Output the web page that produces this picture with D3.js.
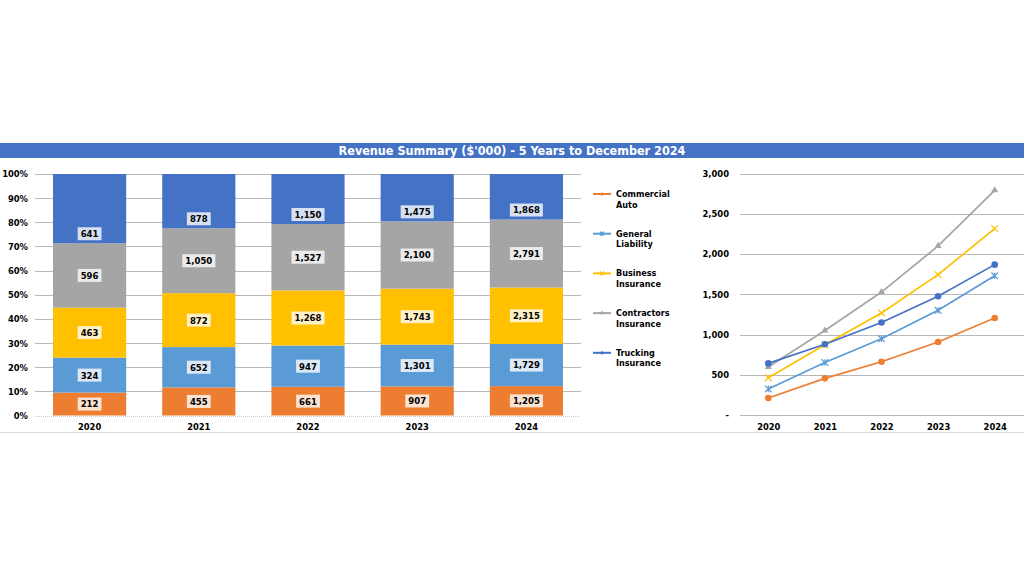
<!DOCTYPE html>
<html><head><meta charset="utf-8">
<script src="https://cdn.jsdelivr.net/npm/d3@7"></script>
<style>
html,body{margin:0;padding:0;background:#fff;}
svg text{font-family:"DejaVu Sans Condensed","DejaVu Sans",sans-serif;font-stretch:condensed;font-weight:bold;}
</style></head>
<body><svg id="c" width="1024" height="577"></svg>
<script>
const years = ["2020","2021","2022","2023","2024"];
const seriesNames = ["Commercial Auto","General Liability","Business Insurance","Contractors Insurance","Trucking Insurance"];
const commercialAuto = [212,455,661,907,1205];
const generalLiability = [324,652,947,1301,1729];
const businessInsurance = [463,872,1268,1743,2315];
const contractorsInsurance = [596,1050,1527,2100,2791];
const truckingInsurance = [641,878,1150,1475,1868];
const pctTicks = [0,0.1,0.2,0.3,0.4,0.5,0.6,0.7,0.8,0.9,1];
const valTicks = [0,500,1000,1500,2000,2500,3000];
const title = "Revenue Summary ($'000) - 5 Years to December 2024";

const values = [commercialAuto,generalLiability,businessInsurance,contractorsInsurance,truckingInsurance];
const colors = ["#ED7D31","#5B9BD5","#FFC000","#A5A5A5","#4472C4"];
const markers = ["circle","star","x","triangle","circle"];

const svg = d3.select("#c");

// title bar
svg.append("rect").attr("x",0).attr("y",143).attr("width",1024).attr("height",15).attr("fill","#4472C4");
svg.append("text").attr("x",512).attr("y",155).attr("text-anchor","middle").attr("fill","#fff")
  .attr("font-size",12.5).text(title);
// bottom separator
svg.append("line").attr("x1",0).attr("x2",1024).attr("y1",432.5).attr("y2",432.5).attr("stroke","#D9DEE8").attr("stroke-width",1);

// ---------- left: 100% stacked ----------
const rows = years.map((y,i)=>{const o={year:y}; seriesNames.forEach((s,j)=>o[s]=values[j][i]); return o;});
const stack = d3.stack().keys(seriesNames).offset(d3.stackOffsetExpand);
const stacked = stack(rows);

const xb = d3.scaleBand().domain(years).range([35,581]).paddingInner(0.33).paddingOuter(0.165);
const yp = d3.scaleLinear().domain([0,1]).range([415.5,174]);

const gL = svg.append("g");
gL.selectAll("line.grid").data(pctTicks).join("line")
  .attr("x1",35).attr("x2",581).attr("y1",d=>Math.round(yp(d))+0.5).attr("y2",d=>Math.round(yp(d))+0.5)
  .attr("stroke",d=>d===0?"#C8C8C8":"#B8B8B8").attr("stroke-dasharray",d=>d===0?"1,1":null);

const yAxisL = d3.axisLeft(yp).tickValues(pctTicks).tickFormat(d3.format(".0%")).tickSize(0).tickPadding(0);
gL.append("g").attr("transform","translate(28,0)").call(yAxisL)
  .call(g=>g.select(".domain").remove())
  .selectAll("text").attr("font-size",9.3).attr("fill","#000").attr("font-family",null);

const xAxisL = d3.axisBottom(xb).tickSize(0).tickPadding(0);
gL.append("g").attr("transform","translate(0,423)").call(xAxisL)
  .call(g=>g.select(".domain").remove())
  .selectAll("text").attr("font-size",9.3).attr("fill","#000").attr("font-family",null);

stacked.forEach((layer,j)=>{
  gL.append("g").selectAll("rect").data(layer).join("rect")
    .attr("x",d=>xb(d.data.year)).attr("width",xb.bandwidth())
    .attr("y",d=>yp(d[1])).attr("height",d=>yp(d[0])-yp(d[1]))
    .attr("fill",colors[j]);
});
const fmt = d3.format(",");
stacked.forEach((layer,j)=>{
  const isTop = j===stacked.length-1;
  layer.forEach((d,i)=>{
    const cx = xb(d.data.year)+xb.bandwidth()/2;
    const cy = isTop ? yp(d[0])-9.5 : (yp(d[0])+yp(d[1]))/2;
    const g = gL.append("g");
    const t = g.append("text").attr("x",cx).attr("y",cy+3.4).attr("text-anchor","middle")
      .attr("font-size",9.5).attr("fill","#000").text(fmt(values[j][i]));
    const w = t.node().getComputedTextLength();
    g.insert("rect","text").attr("x",cx-w/2-3).attr("y",cy-6.5).attr("width",w+6).attr("height",13)
      .attr("fill","#fff").attr("fill-opacity",0.78);
  });
});

// legend
const lg = svg.append("g");
function drawMarker(g,type,x,y,color,s){
  if(type==="circle") g.append("circle").attr("cx",x).attr("cy",y).attr("r",s).attr("fill",color);
  else if(type==="triangle") g.append("path").attr("d",d3.symbol(d3.symbolTriangle,s*s*2)()).attr("transform",`translate(${x},${y})`).attr("fill",color);
  else if(type==="x"){ g.append("path").attr("d",`M${x-s},${y-s}L${x+s},${y+s}M${x-s},${y+s}L${x+s},${y-s}`).attr("stroke",color).attr("stroke-width",1.2).attr("fill","none"); }
  else if(type==="star"){ g.append("path").attr("d",`M${x-s},${y-s}L${x+s},${y+s}M${x-s},${y+s}L${x+s},${y-s}M${x},${y-s}L${x},${y+s}`).attr("stroke",color).attr("stroke-width",1.2).attr("fill","none"); }
}
seriesNames.forEach((s,j)=>{
  const y0 = 194 + j*39.7;
  lg.append("line").attr("x1",593).attr("x2",611).attr("y1",y0).attr("y2",y0).attr("stroke",colors[j]).attr("stroke-width",2);
  drawMarker(lg,markers[j],602,y0,colors[j],markers[j]==="circle"?1.6:2);
  const parts = s.split(" ");
  lg.append("text").attr("x",616).attr("y",y0+3).attr("font-size",9).attr("fill","#000").text(parts[0]);
  lg.append("text").attr("x",616).attr("y",y0+13.5).attr("font-size",9).attr("fill","#000").text(parts.slice(1).join(" "));
});

// ---------- right: line chart ----------
const xp = d3.scalePoint().domain(years).range([740,1023]).padding(0.5);
const yv = d3.scaleLinear().domain([0,3000]).range([415,173.5]);
const gR = svg.append("g");
gR.selectAll("line.grid").data(valTicks).join("line")
  .attr("x1",740).attr("x2",1024).attr("y1",d=>Math.round(yv(d))+0.5).attr("y2",d=>Math.round(yv(d))+0.5)
  .attr("stroke","#B8B8B8");
const yAxisR = d3.axisLeft(yv).tickValues(valTicks).tickFormat(d=>d===0?"-":fmt(d)).tickSize(0).tickPadding(0);
gR.append("g").attr("transform","translate(729,0)").call(yAxisR)
  .call(g=>g.select(".domain").remove())
  .selectAll("text").attr("font-size",9.3).attr("fill","#000").attr("font-family",null);
const xAxisR = d3.axisBottom(xp).tickSize(0).tickPadding(0);
gR.append("g").attr("transform","translate(0,423)").call(xAxisR)
  .call(g=>g.select(".domain").remove())
  .selectAll("text").attr("font-size",9.3).attr("fill","#000").attr("font-family",null);

const line = d3.line().x((d,i)=>xp(years[i])).y(d=>yv(d));
values.forEach((vals,j)=>{
  gR.append("path").datum(vals).attr("d",line).attr("fill","none").attr("stroke",colors[j]).attr("stroke-width",1.7);
  vals.forEach((v,i)=>drawMarker(gR,markers[j],xp(years[i]),yv(v),colors[j],markers[j]==="circle"?3.3:3.3));
});
</script></body></html>
